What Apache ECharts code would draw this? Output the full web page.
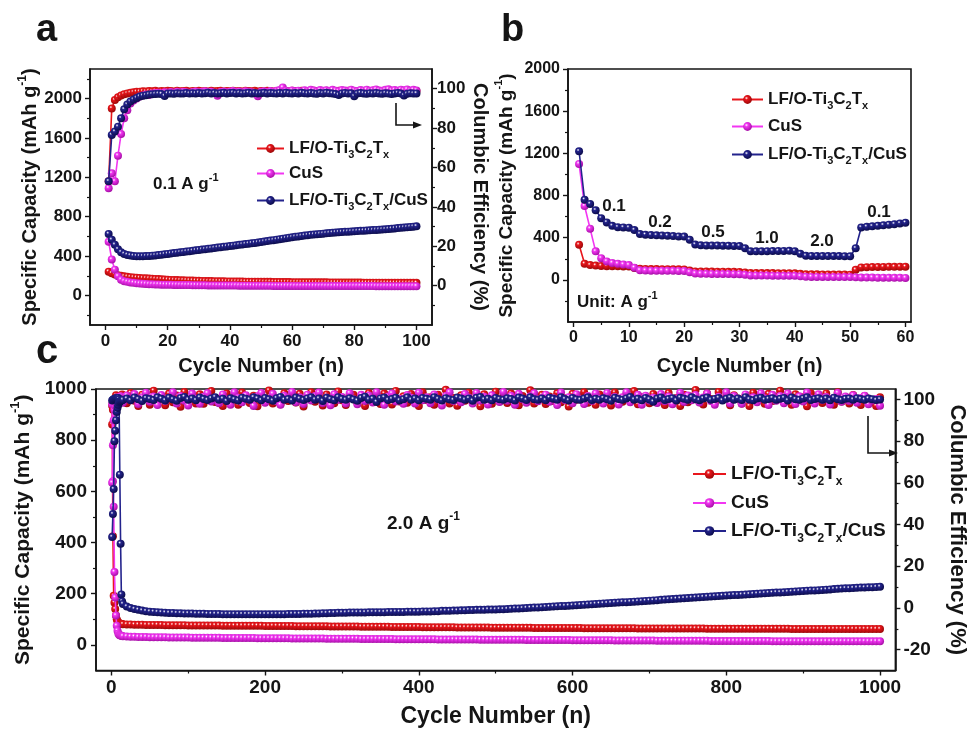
<!DOCTYPE html>
<html>
<head>
<meta charset="utf-8">
<script src="https://cdn.jsdelivr.net/npm/echarts@6/dist/echarts.min.js"></script>
<style>html,body{margin:0;padding:0;background:#fff}#c{width:976px;height:729px}</style>
</head>
<body>
<div id="c"></div>
<script>
// ---------------- DATA ----------------
const seriesNames = ['LF/O-Ti3C2Tx', 'CuS', 'LF/O-Ti3C2Tx/CuS'];

// Panel a: 0.1 A/g, cycles 1..100
const capA_LF = [242,225,214,206,199,194,190,186,183,181,178,176,174,172,170,168,166,164,162,160,158,157,156,155,154,153,152,151,150,149,148,147,146,146,145,145,144,144,143,143,142,142,141,141,140,140,140,139,139,139,138,138,138,137,137,137,136,136,136,135,135,135,134,134,134,134,133,133,133,133,133,132,132,132,132,132,131,131,131,131,131,131,130,130,130,130,130,130,129,129,129,129,129,129,129,128,128,128,128,128];
const capA_CuS = [545,365,262,195,160,145,138,132,128,124,121,119,117,115,113,112,111,110,109,108,108,107,107,106,106,105,105,104,104,103,103,103,102,102,102,101,101,101,100,100,100,100,99,99,99,99,99,98,98,98,98,98,98,97,97,97,97,97,97,97,96,96,96,96,96,96,96,96,96,96,95,95,95,95,95,95,95,95,95,95,95,95,95,95,95,95,94,94,94,94,94,94,94,94,94,94,94,94,94,94];
const capA_Comp = [625,565,515,470,440,422,412,405,401,399,398,399,400,402,404,407,410,414,418,422,426,430,434,438,442,446,450,454,458,462,466,470,474,478,482,486,490,494,498,502,506,510,514,518,522,526,530,534,538,542,547,552,557,562,567,572,577,582,587,592,596,600,604,608,612,616,619,622,625,628,631,634,637,640,642,644,646,648,650,652,654,656,658,660,662,664,666,668,670,672,675,678,681,684,687,690,693,696,699,702];
const ceA_LF = [53,90,94.2,95.6,96.5,97.2,97.6,97.9,98.2,98.4,98.5,98.7,98.6,98.8,98.7,98.9,98.6,98.8,98.7,98.9,98.8,98.6,98.9,98.7,98.8,98.9,98.6,98.8,98.7,98.9,98.7,98.8,98.6,98.9,98.7,98.8,98.9,98.6,98.8,98.7,98.9,98.7,98.8,98.6,98.9,98.8,98.7,98.9,98.6,98.8,98.7,98.9,98.8,98.6,98.8,98.9,98.7,98.8,98.6,98.9,98.8,98.7,98.9,98.6,98.8,98.7,98.9,98.8,98.6,98.8,98.9,98.7,98.8,98.6,98.9,98.8,98.7,98.9,98.6,98.8,98.7,98.9,98.8,98.6,98.8,98.9,98.7,98.8,98.6,98.9,98.8,98.7,98.9,98.6,98.8,98.7,98.9,98.8,98.6,98.8];
const ceA_CuS = [49.5,57,53,66,77,85,89,92.5,94,95,96,96.5,97,96.8,97.5,97.8,98,97.6,98.2,98,98.3,97.9,98.4,98.1,98.5,98.2,97.8,98.3,98.6,98.1,98.4,98.7,98.2,98.5,97.9,96.4,98.3,98.6,98.2,98.5,98.8,98.3,98.6,98.1,98.7,98.4,98.2,97.6,96.2,98.4,98.7,98.3,98.8,98.5,98.9,99.3,100.6,98.9,98.6,99.1,98.7,99,98.5,99.2,98.8,99.4,99.1,98.7,99.3,98.9,99.2,98.8,99.4,99,98.7,99.3,99.1,98.8,99.5,99,98.8,99.3,99,99.5,98.9,99.2,99.6,99.1,98.9,99.4,99.7,99.1,99.3,98.9,99.5,99.2,99.6,99,99.4,99.1];
const ceA_Comp = [53,76.5,78.2,80.7,85,89.5,92,93.5,94.5,95.3,96,96.4,96.7,97,97.2,97.3,97.4,97.3,96.3,97.5,97.6,97.4,97.7,97.5,97.6,97.8,97.5,97.7,97.6,97.8,97.5,97.7,97.9,97.6,97.8,97.5,97.7,97.9,97.6,97.8,97.9,97.6,97.8,97.5,97.7,97.9,97.6,97.8,97.5,97.7,97.9,97.6,97.8,97.7,97.5,97.8,97.6,97.9,97.7,97.5,97.8,97.6,97.9,97.7,97.5,97.8,97.6,97.4,97.8,97.6,97.9,97.7,97.5,97.3,96.8,97.6,97.8,97.5,97.7,96.2,97.5,97.8,97.6,97.4,97.7,97.5,97.8,97.6,97.4,97.7,97.5,97.3,97.6,97.8,97.5,96.6,97.4,97.7,97.5,97.6];

// Panel b: rate capability, cycles 1..60
const capB_LF = [332,152,140,135,132,130,129,128,127,126,112,104,103,102,102,101,101,100,100,99,88,80,79,78,78,77,77,76,76,75,70,66,65,65,64,64,63,63,62,62,57,53,52,52,51,51,50,50,50,49,95,118,120,121,122,122,123,123,124,124];
const capB_CuS = [1100,700,485,270,205,175,160,152,145,140,115,90,88,87,86,86,85,85,84,84,72,60,58,57,56,56,55,55,54,54,48,42,41,40,40,39,39,38,38,38,33,29,28,28,27,27,27,26,26,26,24,22,21,21,20,20,19,19,19,18];
const capB_Comp = [1220,760,720,660,585,545,512,500,497,495,472,435,428,425,422,420,418,415,412,410,380,335,328,326,325,325,324,323,322,320,300,272,270,271,272,273,274,274,275,272,248,228,226,226,225,225,225,225,224,224,300,497,503,508,513,518,523,528,535,542];
const rateLabelsB = ['0.1','0.2','0.5','1.0','2.0','0.1'];

// Panel c: 2.0 A/g, cycles 1..14 then every 5th cycle up to 1000
const capC_LF = [935,425,192,165,140,115,100,92,88,85,84,83,82,82,
81,80,80,79,79,79,78,78,78,78, 78,77,77,77,77,77,77,76,76,76, 76,76,76,76,76,76,75,75,75,75, 75,75,75,75,75,75,75,74,74,74,
74,74,74,74,74,73,73,73,73,73, 73,73,73,73,72,72,72,72,72,72, 72,72,71,71,71,71,71,71,71,71, 70,70,70,70,70,70,70,70,69,69,
69,69,69,69,69,69,69,68,68,68, 68,68,68,68,68,68,67,67,67,67, 67,67,67,67,67,67,67,66,66,66, 66,66,66,66,66,66,66,66,66,66,
65,65,65,65,65,65,65,65,65,65, 65,65,65,65,64,64,64,64,64,64, 64,64,64,64,64,64,64,64,64,64, 64,64,63,63,63,63,63,63,63,63,
63,63,63,63,63,63,63,63,63,63, 63,63,63,63,62,62,62,62,62,62, 62,62,62,62,62,62,62,62,62,62, 62,62,62,62,62,62,62,62];
const capC_CuS = [940,640,540,285,185,115,75,55,45,40,38,37,36,35,
34,33,32,32,31,31,31,30,30,30, 30,30,29,29,29,29,29,29,28,28, 28,28,28,28,28,28,27,27,27,27, 27,27,27,27,27,26,26,26,26,26,
26,26,26,26,25,25,25,25,25,25, 25,25,25,24,24,24,24,24,24,24, 24,24,23,23,23,23,23,23,23,23, 23,22,22,22,22,22,22,22,22,22,
22,22,21,21,21,21,21,21,21,21, 21,21,21,20,20,20,20,20,20,20, 20,20,20,20,20,19,19,19,19,19, 19,19,19,19,19,19,19,18,18,18,
18,18,18,18,18,18,18,18,17,17, 17,17,17,17,17,17,17,17,17,16, 16,16,16,16,16,16,16,16,16,16, 16,16,16,15,15,15,15,15,15,15,
15,15,15,15,15,15,15,15,15,14, 14,14,14,14,14,14,14,14,14,14, 14,14,14,14,14,14,14,14,14,14, 14,14,14,14,14,14,14,14];
const capC_Comp = [955,958,960,962,963,964,964,965,965,960,665,395,197,170,
160,150,144,140,137,134,132,130,129,128, 127,126,125,125,124,124,123,123,123,122, 122,122,121,121,121,121,120,120,120,120, 120,120,120,120,120,120,120,120,120,120,
120,120,120,121,121,121,121,122,122,122, 123,123,124,124,125,125,126,126,126,127, 127,127,127,127,128,128,128,128,128,129, 129,129,129,129,130,130,130,130,131,131,
131,132,132,133,133,133,134,134,135,135, 136,136,137,137,137,138,138,138,139,139, 140,141,142,142,143,144,145,146,146,147, 148,149,150,151,152,152,153,154,155,156,
157,158,159,160,161,162,163,164,165,166, 167,167,168,169,170,171,172,173,174,175, 176,177,178,179,180,181,182,183,184,185, 186,187,188,189,190,191,192,193,194,195,
195,196,197,198,199,200,201,202,203,204, 205,205,206,207,208,209,210,211,212,213, 213,214,215,216,217,218,219,220,221,221, 222,223,224,224,225,225,226,227];
const ceC_LF = [88,95,98,99,100.5,102,101,100,99.5,100.2,101.3,99.8,100.6,102.4,
101.5,98.2,103.1,99.4,96.8,102.3,100.7,97.5,104.2,99.1, 100.9,97.2,102.8,98.6,101.9,96.5,103.6,99.8,100.4,98.0, 102.5,97.9,101.2,104.0,98.8,100.1,96.9,102.9,99.5,101.7, 97.4,103.3,100.2,98.3,101.8,96.7,102.1,99.9,104.3,98.1,
100.6,97.7,103.0,99.2,101.4,98.5,102.7,96.6,100.9,103.5, 98.9,101.3,97.1,102.4,100.0,98.2,103.8,99.6,97.3,101.9, 102.2,98.7,100.5,96.9,103.1,99.3,101.6,97.8,102.8,100.3, 97.6,104.1,99.0,101.5,98.4,102.6,100.8,96.8,103.4,99.7,
101.1,97.5,102.3,99.9,104.6,98.1,100.7,97.0,102.0,99.4, 103.2,98.6,101.0,96.7,102.5,100.2,97.9,103.7,99.1,101.8, 98.3,102.9,100.4,97.2,101.7,99.5,104.4,98.0,100.9,102.2, 97.8,101.4,99.2,103.0,98.7,100.6,96.6,102.7,99.8,101.2,
103.5,98.4,100.1,97.4,102.4,99.6,101.9,97.1,103.3,100.0, 98.9,102.1,99.4,104.0,97.7,101.0,100.5,98.2,102.6,99.3, 101.6,97.3,103.1,99.8,100.7,96.9,102.3,98.6,101.4,104.5, 99.0,97.6,102.8,100.2,98.5,103.6,99.7,101.5,97.2,102.0,
100.4,98.1,101.8,96.8,103.2,99.5,100.9,97.9,102.7,99.2, 101.3,104.2,98.8,100.6,97.4,102.5,99.9,101.1,96.7,103.0, 99.6,101.7,98.3,102.9,100.1,97.5,103.4,99.0,100.8,98.0, 102.1,99.4,97.3,101.6,100.3,98.7,96.9,101.0];
const ceC_CuS = [60,78,90,95,97,98.5,99.5,101,100.2,99.7,100.8,101.5,100.3,99.6,
98.4,101.9,99.6,102.6,97.8,100.9,103.2,98.9,101.4,97.3, 102.1,99.2,100.6,103.5,98.0,101.7,99.4,97.1,102.8,100.3, 97.9,101.3,103.0,99.0,100.7,98.2,102.4,100.0,97.5,103.4, 100.8,98.6,102.0,99.7,96.9,101.5,103.1,98.4,100.2,102.7,
99.1,97.4,101.8,100.4,103.6,98.7,101.0,97.8,102.3,99.5, 101.6,103.3,98.3,100.9,97.2,102.5,99.8,101.2,98.0,103.0, 100.1,97.7,102.2,99.3,101.9,98.5,103.5,100.6,97.4,101.4, 102.9,99.0,100.3,97.9,102.1,100.8,98.1,103.2,99.6,101.0,
98.2,102.4,100.0,97.1,101.7,103.4,99.2,100.5,98.7,102.6, 100.9,98.0,103.1,99.5,101.3,97.6,102.0,100.2,98.8,103.6, 99.4,101.8,97.5,102.7,100.1,98.4,101.5,103.0,99.1,100.7, 102.3,98.9,100.6,97.3,103.3,99.7,101.1,98.2,102.5,100.0,
97.8,101.6,99.3,102.9,100.4,98.0,103.1,99.9,101.2,97.6, 101.0,103.5,98.6,100.2,102.2,97.4,101.8,99.5,100.8,98.3, 102.6,99.1,101.4,97.7,100.5,103.2,98.8,101.9,99.6,102.1, 98.5,100.9,102.8,99.2,97.5,101.3,100.0,103.4,98.1,101.6,
100.3,97.9,102.4,99.8,101.0,98.6,103.0,100.6,97.3,102.2, 99.4,101.7,98.2,102.9,100.1,97.8,101.5,99.0,103.3,100.4, 98.0,102.5,99.7,101.2,97.6,100.8,103.1,98.9,101.4,99.3, 102.0,98.4,100.7,101.8,97.7,99.5,100.2,97.0];
const ceC_Comp = [34,45,57,80,85,90,94,96,97.5,98.5,99,99.3,99.5,99.6,
99.8,100.4,99.6,100.9,100.1,99.3,100.6,100.2,99.7,101.0, 100.3,99.5,100.8,100.0,99.4,100.7,101.2,99.9,100.4,99.6, 100.9,100.2,99.7,100.5,101.1,99.8,100.3,99.2,100.6,100.0, 99.5,100.8,100.3,99.9,101.0,100.4,99.6,100.7,100.1,99.4,
100.6,101.2,99.8,100.2,99.5,100.9,100.3,99.7,100.5,101.0, 99.9,100.4,99.3,100.8,100.1,99.6,101.1,100.2,99.8,100.6, 100.0,99.4,100.7,101.3,99.9,100.3,98.8,100.5,100.9,99.7, 100.2,100.8,99.5,100.1,101.0,99.8,100.4,99.6,100.7,100.3,
99.9,101.1,100.2,99.5,100.6,100.0,99.7,100.9,100.4,99.8, 100.5,99.4,100.8,101.2,99.9,100.3,99.6,100.7,100.1,99.8, 100.6,100.2,99.5,100.9,100.4,99.7,101.0,100.1,99.8,100.5, 99.6,100.8,100.3,99.9,101.1,100.2,99.5,100.7,100.0,99.8,
100.4,101.0,99.7,100.3,99.9,100.6,100.1,99.4,100.8,100.2, 99.8,100.5,101.2,99.9,100.3,99.6,100.7,100.0,98.9,100.4, 100.9,99.7,100.2,100.6,99.5,100.8,100.3,99.9,101.0,100.1, 99.6,100.4,100.9,99.8,100.2,100.7,99.5,100.3,100.8,99.9,
100.5,99.7,101.1,100.0,99.6,100.4,100.8,99.8,100.2,100.6, 99.9,100.3,100.7,99.5,100.9,100.1,99.8,100.5,101.0,99.7, 100.2,100.6,99.9,100.4,99.6,100.8,100.1,99.7,100.3,100.5, 99.9,100.6,100.2,99.8,100.4,100.1,99.7,100.0];

// tick label values
const ticksA_x = [0,20,40,60,80,100], minorA_x = [10,30,50,70,90];
const ticksA_yl = [0,400,800,1200,1600,2000], minorA_yl = [-200,200,600,1000,1400,1800,2200];
const ticksA_yr = [0,20,40,60,80,100], minorA_yr = [-10,10,30,50,70,90];
const ticksB_x = [0,10,20,30,40,50,60], minorB_x = [5,15,25,35,45,55];
const ticksB_y = [0,400,800,1200,1600,2000], minorB_y = [-200,200,600,1000,1400,1800];
const ticksC_x = [0,200,400,600,800,1000], minorC_x = [100,300,500,700,900];
const ticksC_yl = [0,200,400,600,800,1000], minorC_yl = [100,300,500,700,900];
const ticksC_yr = [-20,0,20,40,60,80,100], minorC_yr = [-10,10,30,50,70,90];

// x grids (cycle numbers)
const cyclesA = capA_LF.map((_, i) => i + 1);
const cyclesB = capB_LF.map((_, i) => i + 1);
const cyclesC = [];
for (let c = 1; c <= 14; c++) cyclesC.push(c);
for (let c = 15; c <= 1000; c += 5) cyclesC.push(c);

// ---------------- STYLE ----------------
const FF = "'Liberation Sans', Arial, Helvetica, sans-serif";
const INK = '#151515';
const COLORS = {
  'LF/O-Ti3C2Tx': ['#e8161c', '#9c0808'],
  'CuS': ['#f236f2', '#a810a8'],
  'LF/O-Ti3C2Tx/CuS': ['#23238c', '#0c0c4c']
};
function ball(name) {
  const c = COLORS[name];
  return { type: 'radial', x: 0.38, y: 0.34, r: 0.66,
    colorStops: [{ offset: 0, color: '#ffffff' }, { offset: 0.28, color: c[0] }, { offset: 1, color: c[1] }] };
}
function richSet(size, small) {
  const lh = Math.round(size * 1.4);
  const base = { fontWeight: 'bold', fontFamily: FF, color: INK };
  return {
    m: Object.assign({ fontSize: size, lineHeight: lh }, base),
    s: Object.assign({ fontSize: small, lineHeight: small, verticalAlign: 'bottom' }, base),
    p: Object.assign({ fontSize: small, lineHeight: small, verticalAlign: 'top' }, base)
  };
}
function legendFmt(name) {
  if (name === 'CuS') return '{m|CuS}';
  const t = '{m|LF/O-Ti}{s|3}{m|C}{s|2}{m|T}{s|x}';
  return name === 'LF/O-Ti3C2Tx' ? t : t + '{m|/CuS}';
}
function mkSeries(name, xi, yi, xs, ys, size, z) {
  return {
    type: 'line', name, xAxisIndex: xi, yAxisIndex: yi,
    data: xs.map((x, i) => [x, ys[i]]),
    symbol: 'circle', symbolSize: size, showSymbol: true,
    itemStyle: { color: ball(name) },
    lineStyle: { color: COLORS[name][0], width: 1.6 },
    emphasis: { disabled: true }, animation: false, z: z
  };
}
function mainAxis(gridIndex, pos, min, max, labels, fs, margin, name, nameGap, nameSize, nameRotate) {
  const ax = {
    type: 'value', gridIndex, position: pos, min, max,
    axisLine: { show: true, onZero: false, lineStyle: { color: INK, width: 1.6 } },
    axisTick: { show: true, customValues: labels, length: 5, lineStyle: { color: INK, width: 1.4 } },
    axisLabel: { show: true, customValues: labels, color: INK, fontSize: fs, fontWeight: 'bold', fontFamily: FF, margin,
      formatter: v => String(v) },
    splitLine: { show: false }
  };
  if (name) {
    ax.name = name; ax.nameLocation = 'middle'; ax.nameGap = nameGap;
    if (nameRotate !== undefined) ax.nameRotate = nameRotate;
    ax.nameTextStyle = { color: INK, fontSize: nameSize, fontWeight: 'bold', fontFamily: FF, rich: richSet(nameSize, Math.round(nameSize * 0.6)) };
  }
  return ax;
}
function minorAxis(gridIndex, pos, min, max, vals) {
  return {
    type: 'value', gridIndex, position: pos, min, max,
    axisLine: { show: false, onZero: false },
    axisTick: { show: true, customValues: vals, length: 3, lineStyle: { color: INK, width: 1.2 } },
    axisLabel: { show: false }, splitLine: { show: false }
  };
}

const grids = [
  { left: 90, top: 69, width: 342, height: 256 },
  { left: 568, top: 69, width: 343, height: 253 },
  { left: 96, top: 389, width: 809, height: 284 }
].map(g => Object.assign({ show: true, borderColor: INK, borderWidth: 1.6, backgroundColor: 'transparent' }, g));

const capTitle = '{m|Specific Capacity (mAh g}{p|-1}{m|)}';
const ceTitle = '{m|Columbic Efficiency (%)}';
const cycTitle = '{m|Cycle Number (n)}';

const xAxes = [
  mainAxis(0, 'bottom', -5, 105, ticksA_x, 17, 8, cycTitle, 27, 20),
  minorAxis(0, 'bottom', -5, 105, minorA_x),
  mainAxis(1, 'bottom', -1, 61, ticksB_x, 16, 8, cycTitle, 30, 20),
  minorAxis(1, 'bottom', -1, 61, minorB_x),
  mainAxis(2, 'bottom', -20, 1020, ticksC_x, 19, 8, cycTitle, 30, 23),
  minorAxis(2, 'bottom', -20, 1020, minorC_x)
];
const yAxes = [
  mainAxis(0, 'left', -300, 2300, ticksA_yl, 17, 8, capTitle, 36, 20, 90),
  minorAxis(0, 'left', -300, 2300, minorA_yl),
  mainAxis(0, 'right', -20, 110, ticksA_yr, 17, 5, ceTitle, 25, 20, -90),
  minorAxis(0, 'right', -20, 110, minorA_yr),
  mainAxis(1, 'left', -400, 2000, ticksB_y, 16, 8, capTitle, 48, 19, 90),
  minorAxis(1, 'left', -400, 2000, minorB_y),
  mainAxis(2, 'left', -100, 1000, ticksC_yl, 19, 9, capTitle, 52, 21, 90),
  minorAxis(2, 'left', -100, 1000, minorC_yl),
  mainAxis(2, 'right', -30, 105, ticksC_yr, 19, 8, ceTitle, 45, 22, -90),
  minorAxis(2, 'right', -30, 105, minorC_yr)
];

const series = [
  // panel a capacity (left) and CE (right)
  mkSeries(seriesNames[0], 0, 0, cyclesA, capA_LF, 8, 2),
  mkSeries(seriesNames[1], 0, 0, cyclesA, capA_CuS, 8, 3),
  mkSeries(seriesNames[2], 0, 0, cyclesA, capA_Comp, 8, 4),
  mkSeries(seriesNames[0], 0, 2, cyclesA, ceA_LF, 8, 2),
  mkSeries(seriesNames[1], 0, 2, cyclesA, ceA_CuS, 8, 3),
  mkSeries(seriesNames[2], 0, 2, cyclesA, ceA_Comp, 8, 4),
  // panel b
  mkSeries(seriesNames[0], 2, 4, cyclesB, capB_LF, 8, 2),
  mkSeries(seriesNames[1], 2, 4, cyclesB, capB_CuS, 8, 3),
  mkSeries(seriesNames[2], 2, 4, cyclesB, capB_Comp, 8, 4),
  // panel c
  mkSeries(seriesNames[0], 4, 6, cyclesC, capC_LF, 8, 2),
  mkSeries(seriesNames[1], 4, 6, cyclesC, capC_CuS, 8, 3),
  mkSeries(seriesNames[2], 4, 6, cyclesC, capC_Comp, 8, 4),
  mkSeries(seriesNames[0], 4, 8, cyclesC, ceC_LF, 8, 2),
  mkSeries(seriesNames[1], 4, 8, cyclesC, ceC_CuS, 8, 3),
  mkSeries(seriesNames[2], 4, 8, cyclesC, ceC_Comp, 8, 4)
];

// one legend item per row so the rows sit exactly where the reference has them
function mkLegend(left, centerY, name, iw, ih, fs, sub) {
  const lh = Math.round(fs * 1.4);
  return {
    orient: 'vertical', left, top: centerY - lh / 2, itemWidth: iw, itemHeight: ih,
    data: [name], selectedMode: false, formatter: legendFmt,
    textStyle: { color: INK, fontSize: fs, fontWeight: 'bold', fontFamily: FF, rich: richSet(fs, sub) }
  };
}
const legendRowsA = [147, 172, 199], legendRowsB = [98, 125, 153], legendRowsC = [473, 502, 530];
const legends = []
  .concat(seriesNames.map((n, i) => mkLegend(251, legendRowsA[i], n, 27, 11, 17, 11)))
  .concat(seriesNames.map((n, i) => mkLegend(726, legendRowsB[i], n, 31, 11, 17, 11)))
  .concat(seriesNames.map((n, i) => mkLegend(687, legendRowsC[i], n, 33, 12, 19, 12)));

function txt(x, y, text, size, align) {
  return { type: 'text', x, y, z: 100,
    style: { text, fill: INK, font: 'bold ' + size + 'px ' + FF, textAlign: align || 'left', textVerticalAlign: 'middle',
      rich: richSet(size, Math.round(size * 0.62)) } };
}
function arrow(x, y1, y2, x2) {
  return [
    { type: 'polyline', z: 100, shape: { points: [[x, y1], [x, y2], [x2 - 7, y2]] }, style: { stroke: INK, lineWidth: 1.6, fill: null } },
    { type: 'polygon', z: 100, shape: { points: [[x2, y2], [x2 - 9, y2 - 3.5], [x2 - 9, y2 + 3.5]] }, style: { fill: INK } }
  ];
}

const rateX = [614, 660, 713, 767, 822, 879], rateY = [206, 222, 232, 238, 241, 212];
const graphics = [
  txt(36, 31, 'a', 38), txt(501, 31, 'b', 38), txt(36, 352, 'c', 40),
  txt(153, 184, '{m|0.1 A g}{p|-1}', 17),
  txt(577, 302, '{m|Unit: A g}{p|-1}', 17),
  txt(387, 524, '{m|2.0 A g}{p|-1}', 19)
].concat(rateLabelsB.map((t, i) => txt(rateX[i], rateY[i], '{m|' + t + '}', 17, 'center')))
 .concat(arrow(396, 103, 125, 422))
 .concat(arrow(868, 416, 453, 898));

const chart = echarts.init(document.getElementById('c'), null, { renderer: 'canvas' });
chart.setOption({
  backgroundColor: '#ffffff',
  animation: false,
  grid: grids,
  xAxis: xAxes,
  yAxis: yAxes,
  legend: legends,
  series,
  graphic: graphics
});
</script>
</body>
</html>
